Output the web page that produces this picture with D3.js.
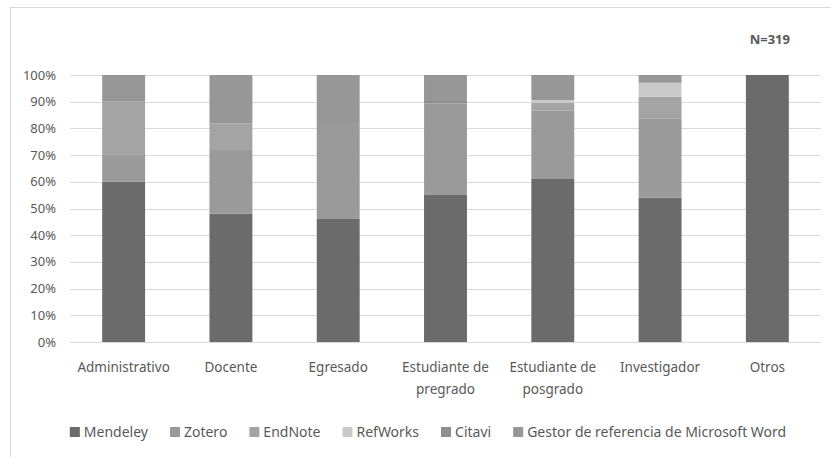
<!DOCTYPE html>
<html><head><meta charset="utf-8">
<script src="https://cdn.jsdelivr.net/npm/d3@7"></script>
<style>
html,body{margin:0;padding:0;background:#fff;}
svg{display:block;font-family:"Noto Sans",sans-serif;}
</style></head>
<body>
<svg id="chart" width="831" height="457"></svg>
<script>
const categories = [["Administrativo"],["Docente"],["Egresado"],["Estudiante de","pregrado"],["Estudiante de","posgrado"],["Investigador"],["Otros"]];
const seriesNames = ["Mendeley","Zotero","EndNote","RefWorks","Citavi","Gestor de referencia de Microsoft Word"];
const mendeley = [60, 48.1, 46.3, 55.3, 61.3, 54.1, 100];
const zotero   = [10, 23.8, 35.0, 34.1, 25.3, 29.7, 0];
const endnote  = [20, 10.0, 0, 0, 3.0, 8.1, 0];
const refworks = [0, 0, 0, 0, 1.0, 5.2, 0];
const citavi   = [0, 0, 0, 1.2, 0, 0, 0];
const gestor   = [10, 18.1, 18.7, 9.4, 9.4, 2.9, 0];
const yTicks = [0,10,20,30,40,50,60,70,80,90,100];
const colors = ["#6b6b6b","#9a9a9a","#a4a4a4","#cacaca","#8e8e8e","#979797"];

const svg = d3.select("#chart");
// outer border
svg.append("rect").attr("x",10.5).attr("y",7.5).attr("width",840).attr("height",470)
  .attr("fill","none").attr("stroke","#d9d9d9");

const x = d3.scaleBand().domain(categories.map((d,i)=>i)).range([70,821]).paddingInner(0.6).paddingOuter(0.3);
const y = d3.scaleLinear().domain([0,100]).range([342,75]);

// gridlines
svg.append("g").selectAll("line").data(yTicks).join("line")
  .attr("x1",70).attr("x2",821).attr("y1",d=>Math.round(y(d))+0.5).attr("y2",d=>Math.round(y(d))+0.5)
  .attr("stroke","#d9d9d9").attr("stroke-width",1);

// y labels
svg.append("g").selectAll("text").data(yTicks).join("text")
  .attr("x",56).attr("y",d=>y(d)).attr("dy","0.35em").attr("text-anchor","end")
  .attr("font-size",13).attr("fill","#595959").text(d=>d+"%");

const table = categories.map((c,i)=>({i, Mendeley:mendeley[i], Zotero:zotero[i], EndNote:endnote[i], RefWorks:refworks[i], Citavi:citavi[i], [seriesNames[5]]:gestor[i]}));
const stack = d3.stack().keys(seriesNames)(table);

svg.append("g").selectAll("g").data(stack).join("g").attr("fill",(d,k)=>colors[k])
  .selectAll("rect").data(d=>d).join("rect")
  .attr("x",d=>x(d.data.i)).attr("width",x.bandwidth())
  .attr("y",d=>y(d[1])).attr("height",d=>y(d[0])-y(d[1]));

// x labels
const xl = svg.append("g").selectAll("text").data(categories).join("text")
  .attr("text-anchor","middle").attr("font-size",13.5).attr("fill","#595959")
  .attr("x",(d,i)=>x(i)+x.bandwidth()/2).attr("y",367);
xl.selectAll("tspan").data(d=>d).join("tspan")
  .attr("x",function(){return this.parentNode.getAttribute("x");})
  .attr("dy",(d,j)=>j===0?"0.35em":"22px").text(d=>d);

// N label
svg.append("text").attr("x",790).attr("y",39).attr("dy","0.35em").attr("text-anchor","end")
  .attr("font-size",13).attr("font-weight","bold").attr("fill","#595959").text("N=319");

// legend
const lg = svg.append("g");
const items = lg.selectAll("g").data(seriesNames).join("g");
items.append("rect").attr("width",10).attr("height",10).attr("y",-5).attr("fill",(d,k)=>colors[k]);
items.append("text").attr("x",14).attr("dy","0.35em").attr("font-size",14).attr("fill","#595959").text(d=>d);
let cx = 0;
const pos = [];
items.each(function(){ const w = this.querySelector("text").getComputedTextLength(); pos.push(cx); cx += 14 + w + 22; });
const total = cx - 22;
const start = 428 - total/2;
items.attr("transform",(d,k)=>`translate(${start+pos[k]},432)`);
</script>
</body></html>
